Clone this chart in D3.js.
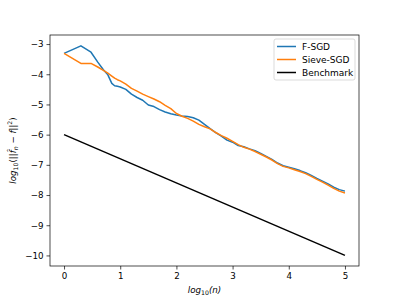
<!DOCTYPE html>
<html>
<head>
<meta charset="utf-8">
<script src="https://cdn.jsdelivr.net/npm/d3@7"></script>
<style>
  body { margin: 0; background: #fff; }
  text { font-family: "DejaVu Sans", sans-serif; }
</style>
</head>
<body>
<div id="chart-area"></div>
<script>
// log10(n) sample points and the two error curves
const logN = [0, 0.3, 0.48, 0.6, 0.7, 0.78, 0.85, 0.9, 0.95, 1.0,
    1.1, 1.2, 1.3, 1.4, 1.5, 1.6, 1.7, 1.8, 1.9, 2.0,
    2.1, 2.2, 2.3, 2.4, 2.5, 2.6, 2.7, 2.8, 2.9, 3.0,
    3.1, 3.2, 3.3, 3.4, 3.5, 3.6, 3.7, 3.8, 3.9, 4.0,
    4.1, 4.2, 4.3, 4.4, 4.5, 4.6, 4.7, 4.8, 4.9, 5.0];

const fSgd = [-3.31, -3.06, -3.27, -3.60, -3.85, -4.02, -4.30, -4.38, -4.40, -4.42,
    -4.50, -4.66, -4.77, -4.86, -5.02, -5.07, -5.17, -5.25, -5.31, -5.35,
    -5.38, -5.40, -5.44, -5.52, -5.66, -5.80, -5.93, -6.05, -6.18, -6.25,
    -6.36, -6.40, -6.47, -6.53, -6.62, -6.72, -6.82, -6.94, -7.03, -7.08,
    -7.13, -7.19, -7.26, -7.35, -7.45, -7.54, -7.63, -7.74, -7.82, -7.87];

const sieveSgd = [-3.31, -3.64, -3.64, -3.76, -3.87, -3.96, -4.06, -4.13, -4.18, -4.22,
    -4.33, -4.47, -4.56, -4.66, -4.74, -4.82, -4.91, -5.03, -5.14, -5.30,
    -5.39, -5.46, -5.55, -5.66, -5.74, -5.81, -5.93, -6.03, -6.12, -6.22,
    -6.33, -6.42, -6.48, -6.56, -6.65, -6.74, -6.84, -6.96, -7.05, -7.10,
    -7.16, -7.22, -7.29, -7.38, -7.48, -7.57, -7.67, -7.78, -7.87, -7.93];

const benchX = [0, 5];
const benchY = [-6, -10];

const xTicks = [0, 1, 2, 3, 4, 5];
const yTicks = [-3, -4, -5, -6, -7, -8, -9, -10];

const seriesNames = ['F-SGD', 'Sieve-SGD', 'Benchmark'];
const seriesColors = ['#1f77b4', '#ff7f0e', '#000000'];

const margin = {left: 50, right: 40, top: 35, bottom: 33};
const width = 399 - margin.left - margin.right,
    height = 299 - margin.top - margin.bottom;

const svg = d3.select('#chart-area')
    .append('svg')
    .attr('width', 399)
    .attr('height', 299);

const g = svg.append('g')
    .attr('transform', 'translate(' + margin.left + ', ' + margin.top + ')');

const xScale = d3.scaleLinear()
    .domain([-0.25, 5.25])
    .range([0, width]);

const yScale = d3.scaleLinear()
    .domain([-10.35, -2.7])
    .range([height, 0]);

const fmt = d => (d < 0 ? '\u2212' + Math.abs(d) : '' + d);

const xAxis = g.append('g')
    .attr('transform', 'translate(0, ' + height + ')')
    .call(d3.axisBottom(xScale).tickValues(xTicks).tickFormat(fmt).tickSize(3.5).tickPadding(3));

const yAxis = g.append('g')
    .call(d3.axisLeft(yScale).tickValues(yTicks).tickFormat(fmt).tickSize(3.5).tickPadding(3));

[xAxis, yAxis].forEach(ax => {
    ax.select('.domain').remove();
    ax.selectAll('.tick line').attr('stroke', '#000').attr('stroke-width', 0.7);
    ax.selectAll('.tick text')
        .attr('fill', '#000')
        .attr('font-size', '8.7px')
        .attr('font-family', 'DejaVu Sans');
});

// frame
g.append('rect')
    .attr('x', 0).attr('y', 0)
    .attr('width', width).attr('height', height)
    .attr('fill', 'none')
    .attr('stroke', '#000')
    .attr('stroke-width', 0.7);

const line = d3.line()
    .x(d => xScale(d[0]))
    .y(d => yScale(d[1]));

const seriesData = [
    d3.zip(logN, fSgd),
    d3.zip(logN, sieveSgd),
    d3.zip(benchX, benchY)
];

g.selectAll('.series')
    .data(seriesData)
    .enter()
    .append('path')
    .attr('class', 'series')
    .attr('d', line)
    .attr('fill', 'none')
    .attr('stroke', (d, i) => seriesColors[i])
    .attr('stroke-width', 1.5)
    .attr('stroke-linejoin', 'round');

// legend
const legend = g.append('g')
    .attr('transform', 'translate(' + (width - 85) + ', 4)');

legend.append('rect')
    .attr('x', 0).attr('y', 0)
    .attr('width', 81).attr('height', 41)
    .attr('rx', 2)
    .attr('fill', '#fff')
    .attr('fill-opacity', 0.8)
    .attr('stroke', '#ccc')
    .attr('stroke-width', 0.7);

seriesNames.forEach((name, i) => {
    const yy = 7.5 + i * 13;
    legend.append('line')
        .attr('x1', 3).attr('x2', 22)
        .attr('y1', yy).attr('y2', yy)
        .attr('stroke', seriesColors[i])
        .attr('stroke-width', 1.5);
    legend.append('text')
        .attr('x', 28).attr('y', yy)
        .attr('dy', '0.35em')
        .attr('font-size', '9px')
        .text(name);
});

// axis labels (mathtext style)
const xLabel = g.append('text')
    .attr('x', width / 2)
    .attr('y', height + 27)
    .attr('text-anchor', 'middle')
    .attr('font-size', '8.7px')
    .attr('font-style', 'italic');
xLabel.append('tspan').text('log');
xLabel.append('tspan').attr('font-size', '6.2px').attr('dy', 2).attr('font-style', 'normal').text('10');
xLabel.append('tspan').attr('dy', -2).text('(n)');

const yLabel = g.append('text')
    .attr('transform', 'translate(-34, ' + (height / 2) + ') rotate(-90)')
    .attr('text-anchor', 'middle')
    .attr('font-size', '8.7px')
    .attr('font-style', 'italic');
yLabel.append('tspan').text('log');
yLabel.append('tspan').attr('font-size', '6.2px').attr('dy', 2).attr('font-style', 'normal').text('10');
yLabel.append('tspan').attr('dy', -2).attr('font-style', 'normal').text('(||');
yLabel.append('tspan').text('f\u0302');
yLabel.append('tspan').attr('font-size', '6.2px').attr('dy', 2).text('n');
yLabel.append('tspan').attr('dy', -2).attr('font-style', 'normal').text(' \u2212 ');
yLabel.append('tspan').text('f');
yLabel.append('tspan').attr('font-style', 'normal').text('||');
yLabel.append('tspan').attr('font-size', '6.2px').attr('dy', -4).attr('font-style', 'normal').text('2');
yLabel.append('tspan').attr('dy', 4).attr('font-style', 'normal').text(')');
</script>
</body>
</html>
